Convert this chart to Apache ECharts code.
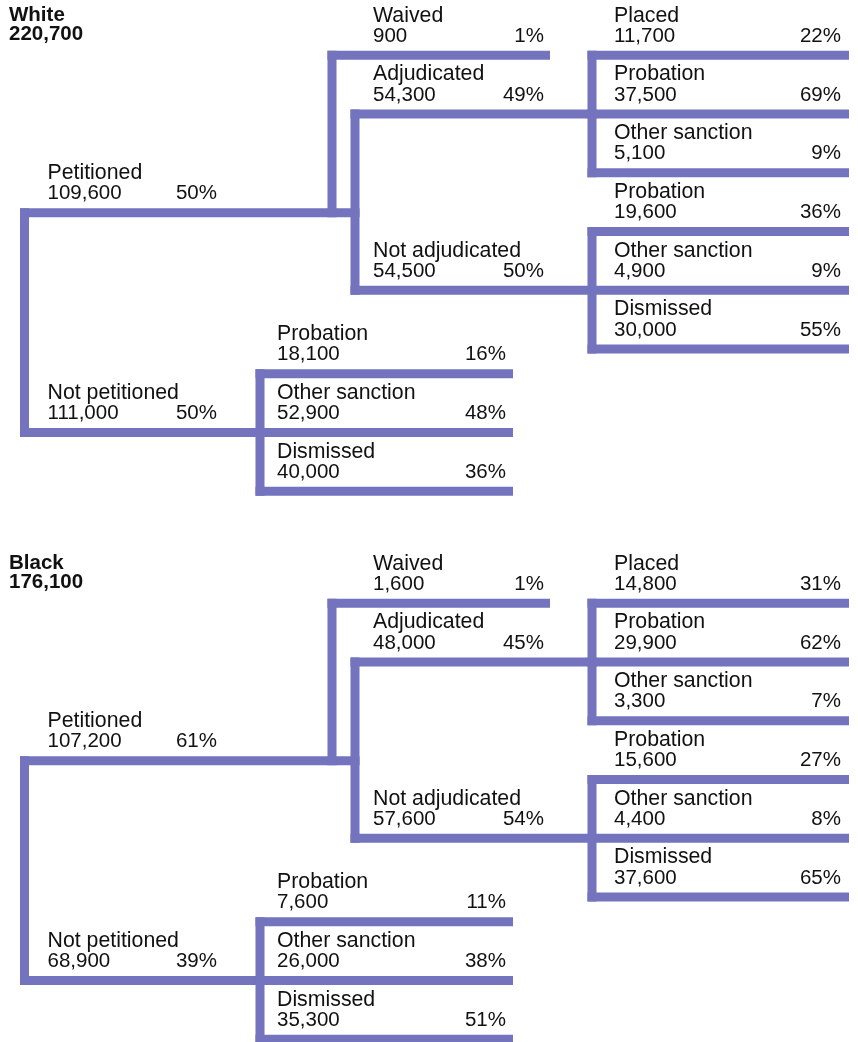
<!DOCTYPE html>
<html>
<head>
<meta charset="utf-8">
<script src="https://cdn.jsdelivr.net/npm/echarts@6/dist/echarts.min.js"></script>
<style>
html, body { margin: 0; padding: 0; background: #fff; }
#chart { width: 858px; height: 1042px; }
</style>
</head>
<body>
<div id="chart"></div>
<script>
// data
var groupNames = ['White', 'Black'];
var groupTotals = [220700, 176100];

var petitionedCount = [109600, 107200];
var petitionedPct = [50, 61];
var notPetitionedCount = [111000, 68900];
var notPetitionedPct = [50, 39];

var waivedCount = [900, 1600];
var waivedPct = [1, 1];
var adjudicatedCount = [54300, 48000];
var adjudicatedPct = [49, 45];
var notAdjudicatedCount = [54500, 57600];
var notAdjudicatedPct = [50, 54];

var adjOutcomes = ['Placed', 'Probation', 'Other sanction'];
var adjOutcomeCount = [[11700, 37500, 5100], [14800, 29900, 3300]];
var adjOutcomePct = [[22, 69, 9], [31, 62, 7]];

var notAdjOutcomes = ['Probation', 'Other sanction', 'Dismissed'];
var notAdjOutcomeCount = [[19600, 4900, 30000], [15600, 4400, 37600]];
var notAdjOutcomePct = [[36, 9, 55], [27, 8, 65]];

var notPetOutcomes = ['Probation', 'Other sanction', 'Dismissed'];
var notPetOutcomeCount = [[18100, 52900, 40000], [7600, 26000, 35300]];
var notPetOutcomePct = [[16, 48, 36], [11, 38, 51]];

// layout
var LINE = '#7373be';
var TEXT = '#111';
var FONT = '"Liberation Sans", Arial, Helvetica, sans-serif';
var W = 9;            // stroke thickness
var ROW = 58.75;      // row pitch
var TOP = 55.3;       // first row of a panel
var PANEL = 548;      // panel offset
var colTrunk = { bar: 24.5, text: 47.5, pct: 217 };
var colCase = { bar: 332, bar2: 355, text: 373, pct: 544, end: 550 };
var colOut = { bar: 592, text: 614, pct: 841, end: 849 };
var colNP = { bar: 260, text: 277, pct: 506, end: 513 };
var rowWaived = 0, rowAdj = 1, rowNotAdj = 4, rowPet = 2.68, rowNP = 6.42;

function rowY(p, r) { return TOP + p * PANEL + r * ROW; }
function fmt(n) { return n.toLocaleString('en-US'); }

var segs = [];
var labels = [];

function hLine(x0, x1, y) { segs.push([x0, y, x1, y]); }
function vLine(x, y0, y1) { segs.push([x, y0, x, y1]); }
function nodeText(col, y, name, count, pct) {
    labels.push({ x: col.text, y: y - 39.5, text: name, align: 'left', size: 21.3 });
    labels.push({ x: col.text, y: y - 19, text: fmt(count), align: 'left', size: 20.5 });
    labels.push({ x: col.pct, y: y - 19, text: pct + '%', align: 'right', size: 20.5 });
}

groupNames.forEach(function (g, p) {
    var yPet = rowY(p, rowPet);
    var yNP = rowY(p, rowNP);
    var yW = rowY(p, rowWaived);
    var yAdj = rowY(p, rowAdj);
    var yNA = rowY(p, rowNotAdj);

    labels.push({ x: 9, y: p * PANEL + 15, text: g, align: 'left', bold: true, size: 20.5 });
    labels.push({ x: 9, y: p * PANEL + 34, text: fmt(groupTotals[p]), align: 'left', bold: true, size: 20.5 });

    // trunk
    vLine(colTrunk.bar, yPet, yNP);
    hLine(colTrunk.bar - W / 2, colCase.bar2 + W / 2, yPet);
    hLine(colTrunk.bar - W / 2, colNP.bar + W / 2, yNP);
    nodeText(colTrunk, yPet, 'Petitioned', petitionedCount[p], petitionedPct[p]);
    nodeText(colTrunk, yNP, 'Not petitioned', notPetitionedCount[p], notPetitionedPct[p]);

    // petitioned branch
    vLine(colCase.bar, yW, yPet);
    hLine(colCase.bar - W / 2, colCase.end, yW);
    nodeText(colCase, yW, 'Waived', waivedCount[p], waivedPct[p]);
    vLine(colCase.bar2, yAdj, yNA);
    hLine(colCase.bar2 - W / 2, colOut.bar + W / 2, yAdj);
    hLine(colCase.bar2 - W / 2, colOut.bar + W / 2, yNA);
    nodeText(colCase, yAdj, 'Adjudicated', adjudicatedCount[p], adjudicatedPct[p]);
    nodeText(colCase, yNA, 'Not adjudicated', notAdjudicatedCount[p], notAdjudicatedPct[p]);

    // outcomes
    function outcomes(col, firstRow, names, counts, pcts) {
        var ys = names.map(function (n, i) { return rowY(p, firstRow + i); });
        vLine(col.bar, ys[0], ys[ys.length - 1]);
        names.forEach(function (n, i) {
            hLine(col.bar - W / 2, col.end, ys[i]);
            nodeText(col, ys[i], n, counts[i], pcts[i]);
        });
    }
    outcomes(colOut, rowAdj - 1, adjOutcomes, adjOutcomeCount[p], adjOutcomePct[p]);
    outcomes(colOut, rowNotAdj - 1, notAdjOutcomes, notAdjOutcomeCount[p], notAdjOutcomePct[p]);
    outcomes(colNP, rowNP - 1, notPetOutcomes, notPetOutcomeCount[p], notPetOutcomePct[p]);
});

var chart = echarts.init(document.getElementById('chart'));
chart.setOption({
    animation: false,
    grid: { left: 0, right: 0, top: 0, bottom: 0 },
    xAxis: { type: 'value', min: 0, max: 858, show: false },
    yAxis: { type: 'value', min: 0, max: 1042, inverse: true, show: false },
    series: [{
        type: 'custom',
        silent: true,
        clip: false,
        data: segs,
        renderItem: function (params, api) {
            var a = api.coord([api.value(0), api.value(1)]);
            var b = api.coord([api.value(2), api.value(3)]);
            var shape;
            if (api.value(1) === api.value(3)) {
                shape = { x: a[0], y: a[1] - W / 2, width: b[0] - a[0], height: W };
            } else {
                shape = { x: a[0] - W / 2, y: a[1] - W / 2, width: W, height: b[1] - a[1] + W };
            }
            return { type: 'rect', shape: shape, style: { fill: LINE } };
        }
    }, {
        type: 'custom',
        silent: true,
        clip: false,
        data: labels.map(function (l) { return [l.x, l.y]; }),
        renderItem: function (params, api) {
            var l = labels[params.dataIndex];
            var pt = api.coord([api.value(0), api.value(1)]);
            return {
                type: 'text',
                x: pt[0],
                y: pt[1],
                style: {
                    text: l.text,
                    fill: TEXT,
                    fontFamily: FONT,
                    fontSize: l.size,
                    fontWeight: l.bold ? 'bold' : 'normal',
                    align: l.align,
                    verticalAlign: 'middle'
                }
            };
        }
    }]
});
</script>
</body>
</html>
